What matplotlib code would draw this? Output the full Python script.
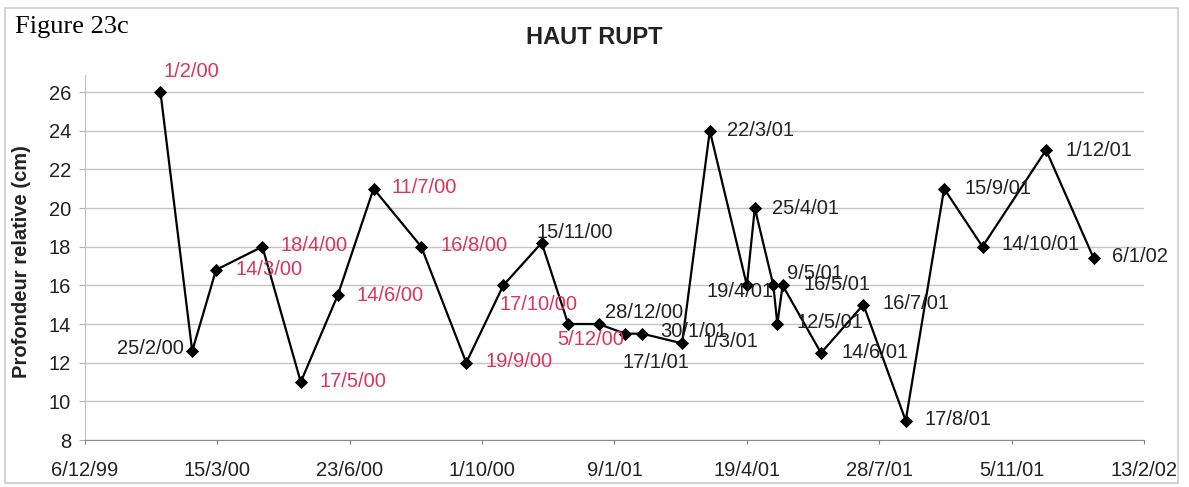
import matplotlib
matplotlib.use("Agg")
import matplotlib.pyplot as plt
import pandas as pd
from matplotlib.patches import Rectangle

# sampling dates (also used as point labels) and relative depth (cm)
dates = ['1/2/00', '25/2/00', '14/3/00', '18/4/00', '17/5/00', '14/6/00',
         '11/7/00', '16/8/00', '19/9/00', '17/10/00', '15/11/00', '5/12/00',
         '28/12/00', '17/1/01', '30/1/01', '1/3/01', '22/3/01', '19/4/01',
         '25/4/01', '9/5/01', '12/5/01', '16/5/01', '14/6/01', '16/7/01',
         '17/8/01', '15/9/01', '14/10/01', '1/12/01', '6/1/02']
depth = [26, 12.6, 16.8, 18, 11, 15.5,
         21, 18, 12, 16, 18.2, 14,
         14, 13.5, 13.5, 13, 24, 16,
         20, 16, 14, 16, 12.5, 15,
         9, 21, 18, 23, 17.4]
red_labels = ['1/2/00', '14/3/00', '18/4/00', '17/5/00', '14/6/00', '11/7/00',
              '16/8/00', '19/9/00', '17/10/00', '5/12/00']

x_ticks = ['6/12/99', '15/3/00', '23/6/00', '1/10/00', '9/1/01',
           '19/4/01', '28/7/01', '5/11/01', '13/2/02']
y_ticks = [8, 10, 12, 14, 16, 18, 20, 22, 24, 26]

# label offsets in pixels (dx, dy), 'r' = right aligned
label_pos = {
    '1/2/00': (3, 21), '25/2/00': (-8, 3, 'r'), '14/3/00': (19, 0),
    '18/4/00': (18, 1), '17/5/00': (19, 1), '14/6/00': (19, 0),
    '11/7/00': (18, 1), '16/8/00': (19, 1), '19/9/00': (19, 1),
    '17/10/00': (-4, -19), '15/11/00': (-5, 10), '5/12/00': (-11, -15),
    '28/12/00': (6, 12), '17/1/01': (-3, -29), '30/1/01': (18, 2),
    '1/3/01': (20, 2), '22/3/01': (17, 0), '19/4/01': (-40, -6),
    '25/4/01': (17, 0), '9/5/01': (14, 12), '12/5/01': (19, 2),
    '16/5/01': (21, 1), '14/6/01': (20, 1), '16/7/01': (19, 1),
    '17/8/01': (19, 1), '15/9/01': (20, 0), '14/10/01': (19, 2),
    '1/12/01': (19, 0), '6/1/02': (18, 2),
}

RED = '#d9365b'
TXT = '#222222'

plt.rcParams['font.family'] = ['Liberation Sans', 'DejaVu Sans']


def to_dt(lst):
    return pd.to_datetime(lst, format='%d/%m/%y')


def draw_fig():
    fig = plt.figure(figsize=(11.89, 4.87), dpi=100)
    ax = fig.add_axes([85 / 1189, 47 / 487, 1059 / 1189, 365 / 487])

    x = to_dt(dates)
    ax.plot(x, depth, color='black', linewidth=1.6, marker='D',
            markersize=6.5, markeredgewidth=0.6, zorder=3)

    for d, xv, yv in zip(dates, x, depth):
        pos = label_pos[d]
        ha = 'right' if len(pos) > 2 else 'left'
        ax.annotate(d, (xv, yv), xytext=(pos[0], pos[1]),
                    textcoords='offset pixels', ha=ha, va='center',
                    fontsize=14.5,
                    color=RED if d in red_labels else TXT, zorder=4)

    xt = to_dt(x_ticks)
    ax.set_xlim(xt[0], xt[-1])
    ax.set_xticks(xt)
    ax.set_xticklabels(x_ticks)
    ax.set_ylim(8, 26.88)
    ax.set_yticks(y_ticks)
    ax.set_yticklabels([str(v) for v in y_ticks])

    ax.tick_params(axis='x', length=3, width=0.8, color='#808080',
                   pad=12, labelsize=14.5, labelcolor=TXT)
    ax.tick_params(axis='y', length=4, width=0.8, color='#b0b0b0',
                   pad=6, labelsize=14.5, labelcolor=TXT)

    ax.yaxis.grid(True, color='#c4c4c4', linewidth=1)
    ax.set_axisbelow(True)
    for s in ['top', 'right']:
        ax.spines[s].set_visible(False)
    ax.spines['left'].set_color('#c0c0c0')
    ax.spines['bottom'].set_color('#8a8a8a')

    ax.set_ylabel('Profondeur relative (cm)', fontsize=14.5,
                  fontweight='bold', color=TXT)
    ax.yaxis.set_label_coords(-54 / 1059, (440 - 262) / 365)

    fig.text(594 / 1189, 1 - 37.5 / 487, 'HAUT RUPT', ha='center',
             va='center', fontsize=17, fontweight='bold', color=TXT)
    fig.text(15 / 1189, 1 - 33 / 487, 'Figure 23c', ha='left',
             va='baseline', fontsize=19, color='black',
             family=['Liberation Serif', 'DejaVu Serif'])

    fig.patches.append(Rectangle((5 / 1189, 4 / 487), 1173 / 1189,
                                 475 / 487, transform=fig.transFigure,
                                 fill=False, edgecolor='#d4d4d4',
                                 linewidth=1.5))
    fig.savefig('out.png', dpi=100)


if __name__ == '__main__':
    draw_fig()
